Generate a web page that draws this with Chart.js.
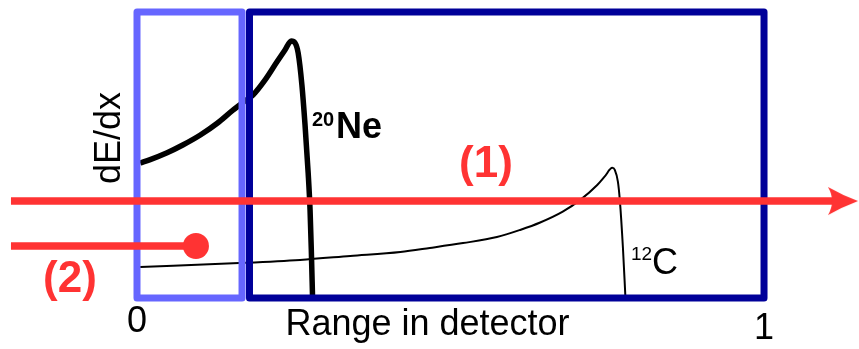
<!DOCTYPE html>
<html>
<head>
<meta charset="utf-8">
<script src="https://cdn.jsdelivr.net/npm/chart.js@4"></script>
<style>
  html, body { margin: 0; padding: 0; background: #fff; }
</style>
</head>
<body>
<canvas id="braggChart" width="859" height="349"></canvas>
<script>
// Bragg curves, range in detector normalised to 0..1, dE/dx in arbitrary units
const neRange = [0.005, 0.021, 0.048, 0.073, 0.101, 0.128, 0.153, 0.174, 0.185, 0.204, 0.223, 0.236, 0.246, 0.252, 0.257, 0.263, 0.268, 0.273, 0.276, 0.278, 0.280];
const neDEdx  = [47.2, 48.4, 50.8, 53.5, 57.0, 61.1, 65.7, 69.2, 71.0, 76.2, 82.5, 86.7, 89.9, 89.2, 85.7, 74.5, 60.5, 43.7, 30.8, 16.8, 0];

const cRange = [0.005, 0.163, 0.260, 0.340, 0.420, 0.467, 0.520, 0.574, 0.611, 0.643, 0.679, 0.707, 0.734, 0.746, 0.758, 0.762, 0.767, 0.770, 0.775, 0.779];
const cDEdx  = [10.8, 12.2, 13.3, 14.7, 16.1, 17.5, 19.2, 21.3, 23.8, 26.4, 30.2, 34.3, 39.5, 42.5, 45.5, 44.8, 40.6, 34.3, 17.5, 0];

// detector stages (range fractions)
const deltaEStage = [0, 0.1675];
const residualStage = [0.1794, 1];

// beams: (1) punches through, (2) stops in the first stage
const beam1Range = [-0.201, 1.126];
const beam1Level = 33.9;
const beam2Range = [-0.201, 0.094];
const beam2Level = 18.2;

const xTicks = [0, 1];
const dEdxMax = 100;

const red = '#ff3333';

function pts(xs, ys) {
    return xs.map((x, i) => ({x: x, y: ys[i]}));
}

function box(range) {
    return [
        {x: range[0], y: 0}, {x: range[0], y: dEdxMax},
        {x: range[1], y: dEdxMax}, {x: range[1], y: 0},
        {x: range[0], y: 0}
    ];
}

// arrow head used as point style at the end of beam (1)
const arrowHead = document.createElement('canvas');
arrowHead.width = 30;
arrowHead.height = 30;
(function () {
    const g = arrowHead.getContext('2d');
    g.fillStyle = red;
    g.beginPath();
    g.moveTo(30, 15);
    g.quadraticCurveTo(14, 9, 0, 1);
    g.quadraticCurveTo(8, 15, 0, 29);
    g.quadraticCurveTo(14, 21, 30, 15);
    g.closePath();
    g.fill();
})();

const labelPlugin = {
    id: 'labels',
    afterDatasetsDraw(chart) {
        const ctx = chart.ctx;
        const fam = 'Liberation Sans, Arial, sans-serif';
        ctx.save();
        ctx.textBaseline = 'alphabetic';
        ctx.textAlign = 'center';

        ctx.fillStyle = red;
        ctx.font = 'bold 44px ' + fam;
        ctx.fillText('(1)', 486, 177);
        ctx.fillText('(2)', 70, 292);

        ctx.fillStyle = '#000';
        ctx.textAlign = 'left';
        ctx.font = 'bold 20px ' + fam;
        ctx.fillText('20', 312, 126);
        ctx.font = 'bold 36px ' + fam;
        ctx.fillText('Ne', 336, 138);

        ctx.font = '19px ' + fam;
        ctx.fillText('12', 631, 260);
        ctx.font = '36px ' + fam;
        ctx.fillText('C', 652, 274);

        ctx.translate(120, 138);
        ctx.rotate(-Math.PI / 2);
        ctx.textAlign = 'center';
        ctx.fillText('dE/dx', 0, 0);
        ctx.restore();
    }
};

new Chart(document.getElementById('braggChart'), {
    type: 'scatter',
    data: {
        datasets: [
            {
                label: 'beam 1',
                data: pts(beam1Range, [beam1Level, beam1Level]),
                showLine: true,
                borderColor: red,
                backgroundColor: red,
                borderWidth: 7.5,
                pointStyle: arrowHead,
                pointRadius: (c) => c.dataIndex === 1 ? 15 : 0,
                clip: false,
                order: 0
            },
            {
                label: 'beam 2',
                data: pts(beam2Range, [beam2Level, beam2Level]),
                showLine: true,
                borderColor: red,
                backgroundColor: red,
                borderWidth: 7.5,
                pointRadius: (c) => c.dataIndex === 1 ? 13 : 0,
                pointBorderWidth: 0,
                clip: false,
                order: 0
            },
            {
                label: 'dE stage',
                data: box(deltaEStage),
                showLine: true,
                borderColor: '#6666ff',
                borderWidth: 7,
                borderJoinStyle: 'round',
                borderCapStyle: 'round',
                pointRadius: 0,
                clip: false,
                order: 1
            },
            {
                label: 'E stage',
                data: box(residualStage),
                showLine: true,
                borderColor: '#000099',
                borderWidth: 7,
                borderJoinStyle: 'round',
                borderCapStyle: 'round',
                pointRadius: 0,
                clip: false,
                order: 1
            },
            {
                label: '20Ne',
                data: pts(neRange, neDEdx),
                showLine: true,
                borderColor: '#000',
                borderWidth: 5.5,
                borderJoinStyle: 'round',
                cubicInterpolationMode: 'monotone',
                pointRadius: 0,
                clip: false,
                order: 2
            },
            {
                label: '12C',
                data: pts(cRange, cDEdx),
                showLine: true,
                borderColor: '#000',
                borderWidth: 2,
                cubicInterpolationMode: 'monotone',
                pointRadius: 0,
                clip: false,
                order: 2
            }
        ]
    },
    options: {
        responsive: false,
        animation: false,
        layout: {
            autoPadding: false,
            padding: {left: 0, right: 4, top: 12, bottom: 0}
        },
        plugins: {
            legend: {display: false},
            tooltip: {enabled: false}
        },
        scales: {
            x: {
                type: 'linear',
                min: -0.2185,
                max: 1.1451,
                grid: {display: false, drawTicks: false},
                border: {display: false},
                afterBuildTicks: (scale) => {
                    scale.ticks = xTicks.map(v => ({value: v}));
                },
                afterFit: (scale) => {
                    scale.height = 51;
                    scale.paddingLeft = 0;
                    scale.paddingRight = 0;
                },
                ticks: {
                    color: '#000',
                    padding: 3,
                    callback: (v) => String(v),
                    font: (c) => ({
                        family: 'Liberation Sans, Arial, sans-serif',
                        size: 36,
                        lineHeight: c.index === 0 ? 1.167 : 1.583
                    })
                },
                title: {
                    display: true,
                    text: 'Range in detector',
                    color: '#000',
                    padding: {top: 0, bottom: 5.5},
                    font: {family: 'Liberation Sans, Arial, sans-serif', size: 36, lineHeight: 1}
                }
            },
            y: {
                display: false,
                min: 0,
                max: dEdxMax
            }
        }
    },
    plugins: [labelPlugin]
});
</script>
</body>
</html>
